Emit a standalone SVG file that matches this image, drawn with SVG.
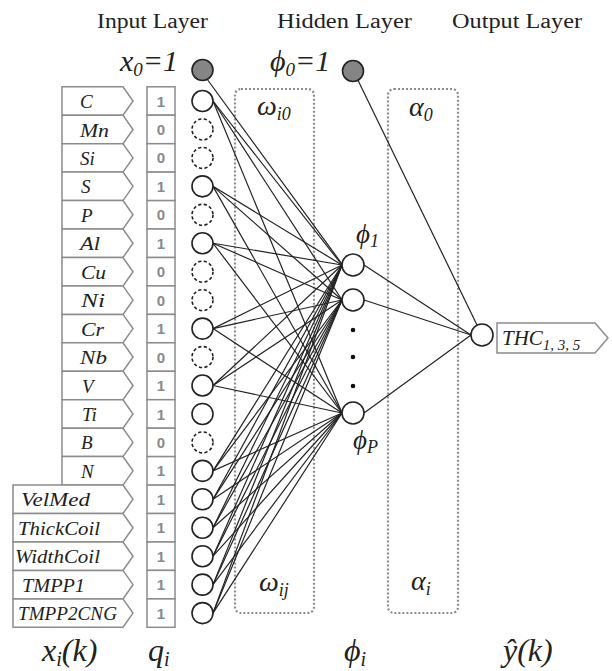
<svg xmlns="http://www.w3.org/2000/svg" width="612" height="671" viewBox="0 0 612 671">
<defs>
<circle id="nd" r="10.5"/>
</defs>
<rect width="612" height="671" fill="#fff"/>

<!-- headers -->
<g id="headers" fill="#222">
<text font-family="'Liberation Serif', 'Times New Roman', serif" font-size="20" x="97" y="28" textLength="111" lengthAdjust="spacingAndGlyphs">Input Layer</text>
<text font-family="'Liberation Serif', 'Times New Roman', serif" font-size="20" x="277" y="28" textLength="135" lengthAdjust="spacingAndGlyphs">Hidden Layer</text>
<text font-family="'Liberation Serif', 'Times New Roman', serif" font-size="20" x="452" y="28" textLength="130" lengthAdjust="spacingAndGlyphs">Output Layer</text>
</g>

<!-- weight regions -->
<g id="omega-box">
<rect fill="none" stroke="#8c8c8c" stroke-width="2.2" stroke-dasharray="2,2" x="235" y="89" width="79" height="524" rx="6"/>
<text font-family="'Liberation Serif', 'Times New Roman', serif" font-style="italic" fill="#222" x="257" y="115" font-size="28">ω<tspan font-size="18" dy="5">i0</tspan></text>
<text font-family="'Liberation Serif', 'Times New Roman', serif" font-style="italic" fill="#222" x="259" y="591" font-size="28">ω<tspan font-size="18" dy="5">ij</tspan></text>
</g>
<g id="alpha-box">
<rect fill="none" stroke="#8c8c8c" stroke-width="2.2" stroke-dasharray="2,2" x="388" y="89" width="70" height="524" rx="6"/>
<text font-family="'Liberation Serif', 'Times New Roman', serif" font-style="italic" fill="#222" x="409" y="116" font-size="28">α<tspan font-size="18" dy="5">0</tspan></text>
<text font-family="'Liberation Serif', 'Times New Roman', serif" font-style="italic" fill="#222" x="411" y="590" font-size="28">α<tspan font-size="18" dy="5">i</tspan></text>
</g>

<!-- connectors -->
<g id="connectors" stroke="#222" stroke-width="1.2">
<line x1="207" y1="79" x2="342" y2="264"/>
<line x1="213" y1="101" x2="342" y2="265"/><line x1="213" y1="101" x2="342" y2="300"/><line x1="213" y1="101" x2="342" y2="413"/>
<line x1="213" y1="186.35" x2="342" y2="265"/><line x1="213" y1="186.35" x2="342" y2="300"/><line x1="213" y1="186.35" x2="342" y2="413"/>
<line x1="213" y1="243.25" x2="342" y2="265"/><line x1="213" y1="243.25" x2="342" y2="300"/><line x1="213" y1="243.25" x2="342" y2="413"/>
<line x1="213" y1="328.6" x2="342" y2="265"/><line x1="213" y1="328.6" x2="342" y2="300"/><line x1="213" y1="328.6" x2="342" y2="413"/>
<line x1="213" y1="385.5" x2="342" y2="265"/><line x1="213" y1="385.5" x2="342" y2="300"/><line x1="213" y1="385.5" x2="342" y2="413"/>
<line x1="213" y1="470.85" x2="342" y2="265"/><line x1="213" y1="470.85" x2="342" y2="300"/><line x1="213" y1="470.85" x2="342" y2="413"/>
<line x1="213" y1="499.3" x2="342" y2="265"/><line x1="213" y1="499.3" x2="342" y2="300"/><line x1="213" y1="499.3" x2="342" y2="413"/>
<line x1="213" y1="527.75" x2="342" y2="265"/><line x1="213" y1="527.75" x2="342" y2="300"/><line x1="213" y1="527.75" x2="342" y2="413"/>
<line x1="213" y1="556.2" x2="342" y2="265"/><line x1="213" y1="556.2" x2="342" y2="300"/><line x1="213" y1="556.2" x2="342" y2="413"/>
<line x1="213" y1="584.65" x2="342" y2="265"/><line x1="213" y1="584.65" x2="342" y2="300"/><line x1="213" y1="584.65" x2="342" y2="413"/>
<line x1="213" y1="613.1" x2="342" y2="265"/><line x1="213" y1="613.1" x2="342" y2="300"/><line x1="213" y1="613.1" x2="342" y2="413"/>
<line x1="364" y1="265" x2="471" y2="335"/>
<line x1="364" y1="300" x2="471" y2="335"/>
<line x1="364" y1="413" x2="471" y2="335"/>
<line x1="357.6" y1="79.4" x2="477" y2="325"/>
</g>

<!-- input feature labels -->
<g id="input-labels">
<g fill="#fff" stroke="#8c8c8c" stroke-width="1.5">
<path d="M62,86.8H123L133,101L123,115.2H62Z"/>
<path d="M62,115.2H123L133,129.45L123,143.7H62Z"/>
<path d="M62,143.7H123L133,157.9L123,172.1H62Z"/>
<path d="M62,172.1H123L133,186.35L123,200.6H62Z"/>
<path d="M62,200.6H123L133,214.8L123,229H62Z"/>
<path d="M62,229H123L133,243.25L123,257.5H62Z"/>
<path d="M62,257.5H123L133,271.7L123,285.9H62Z"/>
<path d="M62,285.9H123L133,300.15L123,314.4H62Z"/>
<path d="M62,314.4H123L133,328.6L123,342.8H62Z"/>
<path d="M62,342.8H123L133,357.05L123,371.3H62Z"/>
<path d="M62,371.3H123L133,385.5L123,399.7H62Z"/>
<path d="M62,399.7H123L133,413.95L123,428.2H62Z"/>
<path d="M62,428.2H123L133,442.4L123,456.6H62Z"/>
<path d="M62,456.6H123L133,470.85L123,485.1H62Z"/>
<path d="M13,485.1H123L133,499.3L123,513.5H13Z"/>
<path d="M13,513.5H123L133,527.75L123,542H13Z"/>
<path d="M13,542H123L133,556.2L123,570.4H13Z"/>
<path d="M13,570.4H123L133,584.65L123,598.9H13Z"/>
<path d="M13,598.9H123L133,613.1L123,627.3H13Z"/>
</g>
<g fill="#222">
<text font-family="'Liberation Serif', 'Times New Roman', serif" font-style="italic" font-size="19" x="80" y="108">C</text>
<text font-family="'Liberation Serif', 'Times New Roman', serif" font-style="italic" font-size="19" x="80" y="136.5" textLength="29" lengthAdjust="spacingAndGlyphs">Mn</text>
<text font-family="'Liberation Serif', 'Times New Roman', serif" font-style="italic" font-size="19" x="80" y="164.9">Si</text>
<text font-family="'Liberation Serif', 'Times New Roman', serif" font-style="italic" font-size="19" x="81" y="193.3">S</text>
<text font-family="'Liberation Serif', 'Times New Roman', serif" font-style="italic" font-size="19" x="81" y="221.8">P</text>
<text font-family="'Liberation Serif', 'Times New Roman', serif" font-style="italic" font-size="19" x="80" y="250.2" textLength="20" lengthAdjust="spacingAndGlyphs">Al</text>
<text font-family="'Liberation Serif', 'Times New Roman', serif" font-style="italic" font-size="19" x="81" y="278.7" textLength="25" lengthAdjust="spacingAndGlyphs">Cu</text>
<text font-family="'Liberation Serif', 'Times New Roman', serif" font-style="italic" font-size="19" x="81" y="307.1" textLength="24" lengthAdjust="spacingAndGlyphs">Ni</text>
<text font-family="'Liberation Serif', 'Times New Roman', serif" font-style="italic" font-size="19" x="81" y="335.6" textLength="23" lengthAdjust="spacingAndGlyphs">Cr</text>
<text font-family="'Liberation Serif', 'Times New Roman', serif" font-style="italic" font-size="19" x="80" y="364" textLength="27" lengthAdjust="spacingAndGlyphs">Nb</text>
<text font-family="'Liberation Serif', 'Times New Roman', serif" font-style="italic" font-size="19" x="82" y="392.5">V</text>
<text font-family="'Liberation Serif', 'Times New Roman', serif" font-style="italic" font-size="19" x="82" y="420.9">Ti</text>
<text font-family="'Liberation Serif', 'Times New Roman', serif" font-style="italic" font-size="19" x="81" y="449.4">B</text>
<text font-family="'Liberation Serif', 'Times New Roman', serif" font-style="italic" font-size="19" x="81" y="477.8">N</text>
<text font-family="'Liberation Serif', 'Times New Roman', serif" font-style="italic" font-size="19" x="21" y="506.3" textLength="69" lengthAdjust="spacingAndGlyphs">VelMed</text>
<text font-family="'Liberation Serif', 'Times New Roman', serif" font-style="italic" font-size="19" x="18" y="534.7" textLength="82" lengthAdjust="spacingAndGlyphs">ThickCoil</text>
<text font-family="'Liberation Serif', 'Times New Roman', serif" font-style="italic" font-size="19" x="15" y="563.2" textLength="85" lengthAdjust="spacingAndGlyphs">WidthCoil</text>
<text font-family="'Liberation Serif', 'Times New Roman', serif" font-style="italic" font-size="19" x="22" y="591.6" textLength="63" lengthAdjust="spacingAndGlyphs">TMPP1</text>
<text font-family="'Liberation Serif', 'Times New Roman', serif" font-style="italic" font-size="19" x="18" y="620.1" textLength="99" lengthAdjust="spacingAndGlyphs">TMPP2CNG</text>
</g>
</g>

<!-- selection flags q_i -->
<g id="q-column">
<g fill="#fff" stroke="#8c8c8c" stroke-width="1.5">
<rect x="147" y="86.8" width="28" height="28.4"/>
<rect x="147" y="115.2" width="28" height="28.5"/>
<rect x="147" y="143.7" width="28" height="28.4"/>
<rect x="147" y="172.1" width="28" height="28.5"/>
<rect x="147" y="200.6" width="28" height="28.4"/>
<rect x="147" y="229" width="28" height="28.5"/>
<rect x="147" y="257.5" width="28" height="28.4"/>
<rect x="147" y="285.9" width="28" height="28.5"/>
<rect x="147" y="314.4" width="28" height="28.4"/>
<rect x="147" y="342.8" width="28" height="28.5"/>
<rect x="147" y="371.3" width="28" height="28.4"/>
<rect x="147" y="399.7" width="28" height="28.5"/>
<rect x="147" y="428.2" width="28" height="28.4"/>
<rect x="147" y="456.6" width="28" height="28.5"/>
<rect x="147" y="485.1" width="28" height="28.4"/>
<rect x="147" y="513.5" width="28" height="28.5"/>
<rect x="147" y="542" width="28" height="28.4"/>
<rect x="147" y="570.4" width="28" height="28.5"/>
<rect x="147" y="598.9" width="28" height="28.4"/>
</g>
<g fill="#8a8a8a" text-anchor="middle">
<text font-family="'Liberation Sans', Arial, sans-serif" font-weight="bold" font-size="15" x="161" y="106.5">1</text>
<text font-family="'Liberation Sans', Arial, sans-serif" font-weight="bold" font-size="15" x="161" y="135">0</text>
<text font-family="'Liberation Sans', Arial, sans-serif" font-weight="bold" font-size="15" x="161" y="163.4">0</text>
<text font-family="'Liberation Sans', Arial, sans-serif" font-weight="bold" font-size="15" x="161" y="191.9">1</text>
<text font-family="'Liberation Sans', Arial, sans-serif" font-weight="bold" font-size="15" x="161" y="220.3">0</text>
<text font-family="'Liberation Sans', Arial, sans-serif" font-weight="bold" font-size="15" x="161" y="248.8">1</text>
<text font-family="'Liberation Sans', Arial, sans-serif" font-weight="bold" font-size="15" x="161" y="277.2">0</text>
<text font-family="'Liberation Sans', Arial, sans-serif" font-weight="bold" font-size="15" x="161" y="305.7">0</text>
<text font-family="'Liberation Sans', Arial, sans-serif" font-weight="bold" font-size="15" x="161" y="334.1">1</text>
<text font-family="'Liberation Sans', Arial, sans-serif" font-weight="bold" font-size="15" x="161" y="362.6">0</text>
<text font-family="'Liberation Sans', Arial, sans-serif" font-weight="bold" font-size="15" x="161" y="391">1</text>
<text font-family="'Liberation Sans', Arial, sans-serif" font-weight="bold" font-size="15" x="161" y="419.5">1</text>
<text font-family="'Liberation Sans', Arial, sans-serif" font-weight="bold" font-size="15" x="161" y="447.9">0</text>
<text font-family="'Liberation Sans', Arial, sans-serif" font-weight="bold" font-size="15" x="161" y="476.4">1</text>
<text font-family="'Liberation Sans', Arial, sans-serif" font-weight="bold" font-size="15" x="161" y="504.8">1</text>
<text font-family="'Liberation Sans', Arial, sans-serif" font-weight="bold" font-size="15" x="161" y="533.3">1</text>
<text font-family="'Liberation Sans', Arial, sans-serif" font-weight="bold" font-size="15" x="161" y="561.7">1</text>
<text font-family="'Liberation Sans', Arial, sans-serif" font-weight="bold" font-size="15" x="161" y="590.2">1</text>
<text font-family="'Liberation Sans', Arial, sans-serif" font-weight="bold" font-size="15" x="161" y="618.6">1</text>
</g>
</g>

<!-- input nodes -->
<g fill="#fff" stroke="#222" stroke-width="1.6">
<g id="in-x0"><use href="#nd" x="202.5" y="70" fill="#858585"/></g>
<g id="in-C"><use href="#nd" x="202.5" y="101"/></g>
<g id="in-Mn"><use href="#nd" x="202.5" y="129.45" stroke-dasharray="3.2,2.4"/></g>
<g id="in-Si"><use href="#nd" x="202.5" y="157.9" stroke-dasharray="3.2,2.4"/></g>
<g id="in-S"><use href="#nd" x="202.5" y="186.35"/></g>
<g id="in-P"><use href="#nd" x="202.5" y="214.8" stroke-dasharray="3.2,2.4"/></g>
<g id="in-Al"><use href="#nd" x="202.5" y="243.25"/></g>
<g id="in-Cu"><use href="#nd" x="202.5" y="271.7" stroke-dasharray="3.2,2.4"/></g>
<g id="in-Ni"><use href="#nd" x="202.5" y="300.15" stroke-dasharray="3.2,2.4"/></g>
<g id="in-Cr"><use href="#nd" x="202.5" y="328.6"/></g>
<g id="in-Nb"><use href="#nd" x="202.5" y="357.05" stroke-dasharray="3.2,2.4"/></g>
<g id="in-V"><use href="#nd" x="202.5" y="385.5"/></g>
<g id="in-Ti"><use href="#nd" x="202.5" y="413.95"/></g>
<g id="in-B"><use href="#nd" x="202.5" y="442.4" stroke-dasharray="3.2,2.4"/></g>
<g id="in-N"><use href="#nd" x="202.5" y="470.85"/></g>
<g id="in-VelMed"><use href="#nd" x="202.5" y="499.3"/></g>
<g id="in-ThickCoil"><use href="#nd" x="202.5" y="527.75"/></g>
<g id="in-WidthCoil"><use href="#nd" x="202.5" y="556.2"/></g>
<g id="in-TMPP1"><use href="#nd" x="202.5" y="584.65"/></g>
<g id="in-TMPP2CNG"><use href="#nd" x="202.5" y="613.1"/></g>
</g>
<text font-family="'Liberation Serif', 'Times New Roman', serif" font-style="italic" fill="#222" x="120" y="71" font-size="30">x<tspan font-size="19" dy="5">0</tspan><tspan dy="-5">=1</tspan></text>

<!-- hidden nodes -->
<g id="hid-0"><circle fill="#858585" stroke="#222" stroke-width="1.6" cx="353" cy="71" r="10.5"/><text font-family="'Liberation Serif', 'Times New Roman', serif" font-style="italic" fill="#222" x="270" y="71" font-size="30">ϕ<tspan font-size="19" dy="5">0</tspan><tspan dy="-5">=1</tspan></text></g>
<g id="hid-1"><circle fill="#fff" stroke="#222" stroke-width="1.6" cx="353" cy="265" r="11"/><text font-family="'Liberation Serif', 'Times New Roman', serif" font-style="italic" fill="#222" x="356" y="243" font-size="27">ϕ<tspan font-size="18" dy="4">1</tspan></text></g>
<g id="hid-2"><circle fill="#fff" stroke="#222" stroke-width="1.6" cx="353" cy="300" r="11"/></g>
<g id="hid-dots" fill="#111"><circle cx="353" cy="330" r="2.3"/><circle cx="353" cy="357" r="2.3"/><circle cx="353" cy="386" r="2.3"/></g>
<g id="hid-P"><circle fill="#fff" stroke="#222" stroke-width="1.6" cx="353" cy="413" r="11"/><text font-family="'Liberation Serif', 'Times New Roman', serif" font-style="italic" fill="#222" x="353" y="449" font-size="27">ϕ<tspan font-size="18" dy="4">P</tspan></text></g>

<!-- output -->
<g id="out"><circle fill="#fff" stroke="#222" stroke-width="1.6" cx="482" cy="335" r="11"/></g>
<g id="out-label">
<path fill="#fff" stroke="#8c8c8c" stroke-width="1.5" d="M497,323H595L608,338L595,353H497Z"/>
<text font-family="'Liberation Serif', 'Times New Roman', serif" font-style="italic" fill="#222" x="502" y="345" font-size="21">THC<tspan font-size="15" dy="5">1, 3, 5</tspan></text>
</g>

<!-- bottom labels -->
<g id="axis-labels" fill="#222">
<text font-family="'Liberation Serif', 'Times New Roman', serif" font-style="italic" x="42" y="661" font-size="32">x<tspan font-size="20" dy="5">i</tspan><tspan dy="-5">(k)</tspan></text>
<text font-family="'Liberation Serif', 'Times New Roman', serif" font-style="italic" x="148" y="661" font-size="32">q<tspan font-size="20" dy="5">i</tspan></text>
<text font-family="'Liberation Serif', 'Times New Roman', serif" font-style="italic" x="344" y="661" font-size="32">ϕ<tspan font-size="20" dy="5">i</tspan></text>
<text font-family="'Liberation Serif', 'Times New Roman', serif" font-style="italic" x="503" y="661" font-size="32">ŷ(k)</text>
</g>
</svg>
